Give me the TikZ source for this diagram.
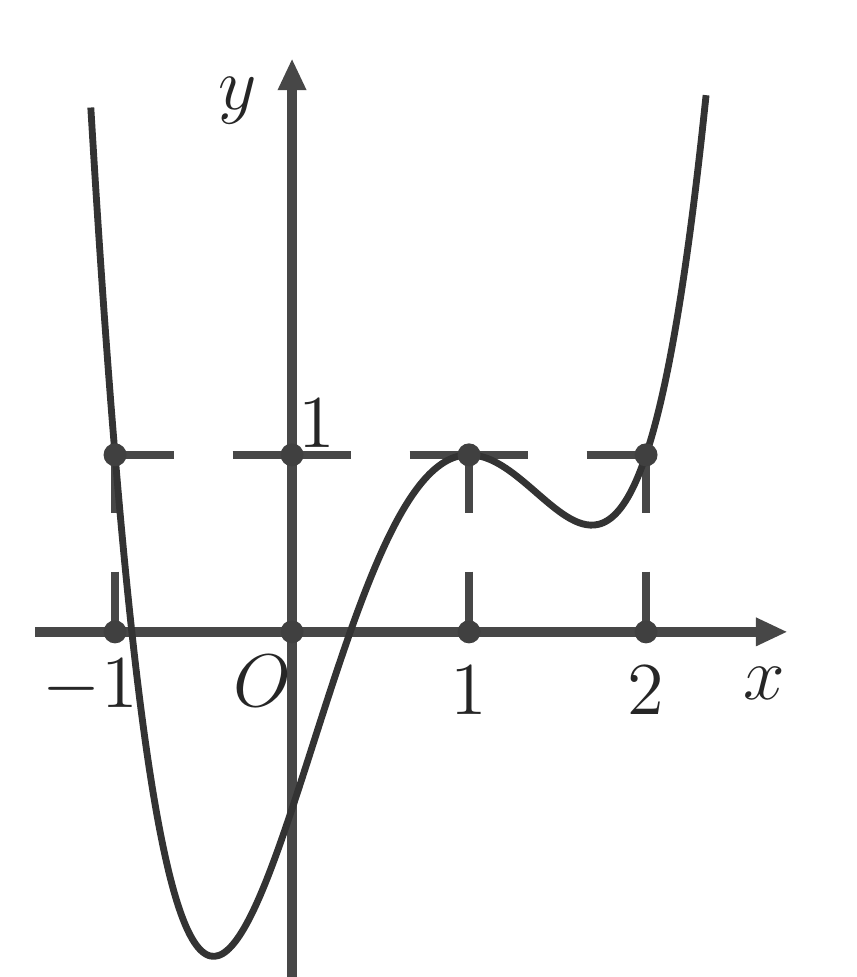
\documentclass[tikz,border=0pt]{standalone}
\usepackage{amsmath}
\usetikzlibrary{arrows.meta}

\begin{document}
\begin{tikzpicture}[line join=round,
    dot/.style={circle, fill=black!75, inner sep=0pt, minimum size=1.3mm},
    lab/.style={font=\fontsize{12.5}{14}\selectfont, text=black!85, inner sep=0pt},
    axisline/.style={draw=black!72, line width=1.5pt, -{Triangle[length=1.8mm, width=1.5mm]}},
    guide/.style={draw=black!72, line width=1.3pt},
    graph/.style={draw=black!80, line width=1.1pt}]
    \useasboundingbox (-1.65,-1.95) rectangle (3.19,3.57);
    % grid points
    \coordinate (a1) at (-1,1);
    \coordinate (o1) at (0,1);
    \coordinate (b1) at (1,1);
    \coordinate (c1) at (2,1);
    \coordinate (a0) at (-1,0);
    \coordinate (o0) at (0,0);
    \coordinate (b0) at (1,0);
    \coordinate (c0) at (2,0);
    \coordinate (xl) at (-1.45,0);
    \coordinate (xr) at (2.8,0);
    \coordinate (yb) at (0,-1.95);
    \coordinate (yt) at (0,3.24);
    % dashed guides
    \draw[guide, dash pattern=on 0.67cm off 0.33cm, dash phase=0.335cm] (a1) -- (c1);
    \draw[guide, dash pattern=on 0.33cm off 0.33cm] (a1) -- (a0);
    \draw[guide, dash pattern=on 0.33cm off 0.33cm] (b1) -- (b0);
    \draw[guide, dash pattern=on 0.33cm off 0.33cm] (c1) -- (c0);
    % axes
    \draw[axisline] (xl) -- (xr);
    \draw[axisline] (yb) -- (yt);
    % the curve
    \draw[graph] plot[domain=-1.137:2.34, samples=150, smooth] (\x, {1+(\x+1)*(\x-1)*(\x-1)*(\x-2)});
    % dots
    \foreach \p in {a1,o1,b1,c1,a0,o0,b0,c0}
        \node[dot] (d\p) at (\p) {};
    % labels
    \node[lab] (ly) at (-0.31,3.0) {$y$};
    \node[lab] (lx) at (2.67,-0.29) {$x$};
    \node[lab] (lo) at (-0.17,-0.28) {$O$};
    \node[lab] (lm1) at (-1.14,-0.31) {$-1$};
    \node[lab] (l1) at (1,-0.33) {$1$};
    \node[lab] (l2) at (2,-0.33) {$2$};
    \node[lab] (ly1) at (0.14,1.18) {$1$};
\end{tikzpicture}
\end{document}
